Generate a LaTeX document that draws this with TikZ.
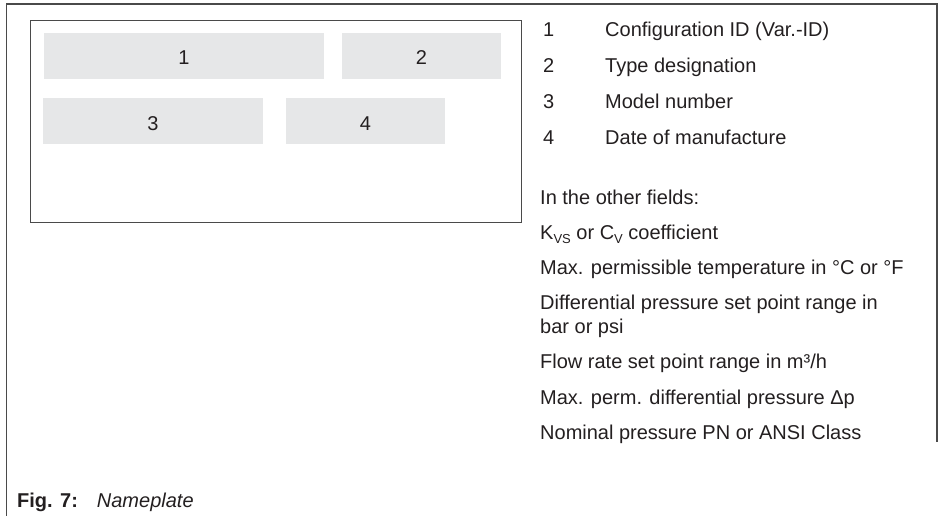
\documentclass[tikz,border=0pt]{standalone}
\usepackage{fontspec}
\setmainfont{Liberation Sans}
\definecolor{ink}{HTML}{231F20}
\definecolor{fieldgray}{HTML}{E6E7E8}
\definecolor{framegray}{HTML}{4A4A4A}

\newcommand{\sub}[1]{\raisebox{-4pt}{\fontsize{13}{13}\selectfont #1}}

\begin{document}
\begin{tikzpicture}[x=1pt,y=-1pt,
  txt/.style={anchor=base west, inner sep=0pt, text=ink, font=\fontsize{20}{24}\selectfont},
  digit/.style={anchor=base, inner sep=0pt, text=ink, font=\fontsize{20}{24}\selectfont},
  field/.style={fill=fieldgray, draw=none, inner sep=0pt, anchor=north west},
  plate/.style={draw=framegray, line width=1.2pt, inner sep=0pt, anchor=north west},
  frame/.style={draw=framegray, line width=1.2pt}]
\useasboundingbox (0,0) rectangle (942,516);

% surrounding frame, open at the bottom
\coordinate (fbl) at (6.5,516);
\coordinate (ftl) at (6.5,4);
\coordinate (ftr) at (937,4);
\coordinate (fbr) at (937,442);
\draw[frame] (fbl) -- (ftl) -- (ftr) -- (fbr);

% nameplate with its four fields
\node[plate, minimum width=491pt, minimum height=202pt] (nameplate) at (30,20) {};
\node[field, minimum width=280pt, minimum height=46pt] (f1) at (44,33) {};
\node[field, minimum width=159pt, minimum height=46pt] (f2) at (342,33) {};
\node[field, minimum width=220pt, minimum height=46pt] (f3) at (43,98) {};
\node[field, minimum width=159pt, minimum height=46pt] (f4) at (286,98) {};
\node[digit] (d1) at (184,65) {1};
\node[digit] (d2) at (421.5,65) {2};
\node[digit] (d3) at (153,131) {3};
\node[digit] (d4) at (365.5,131) {4};

% legend
\node[txt] (n1) at (543,36.5) {1};
\node[txt] (t1) at (605,36.5) {Configuration ID (Var.-ID)};
\node[txt] (n2) at (543,72.5) {2};
\node[txt] (t2) at (605,72.5) {Type designation};
\node[txt] (n3) at (543,108.5) {3};
\node[txt] (t3) at (605,108.5) {Model number};
\node[txt] (n4) at (543,144.5) {4};
\node[txt] (t4) at (605,144.5) {Date of manufacture};

\node[txt] (other) at (540,204) {In the other fields:};
\node[txt] (kvs) at (540,239) {K\sub{VS} or C\sub{V} coefficient};
\node[txt] (tmax) at (540,274) {Max. permissible temperature in °C or °F};
\node[txt] (dp1) at (540,309) {Differential pressure set point range in};
\node[txt] (dp2) at (540,333.5) {bar or psi};
\node[txt] (flow) at (540,368) {Flow rate set point range in m³/h};
\node[txt] (dpmax) at (540,404) {Max. perm. differential pressure Δp};
\node[txt] (pn) at (540,439) {Nominal pressure PN or ANSI Class};

% caption
\node[txt] (caption) at (17,507) {\textbf{Fig. 7:}\hspace{19pt}\textit{Nameplate}};
\end{tikzpicture}
\end{document}
